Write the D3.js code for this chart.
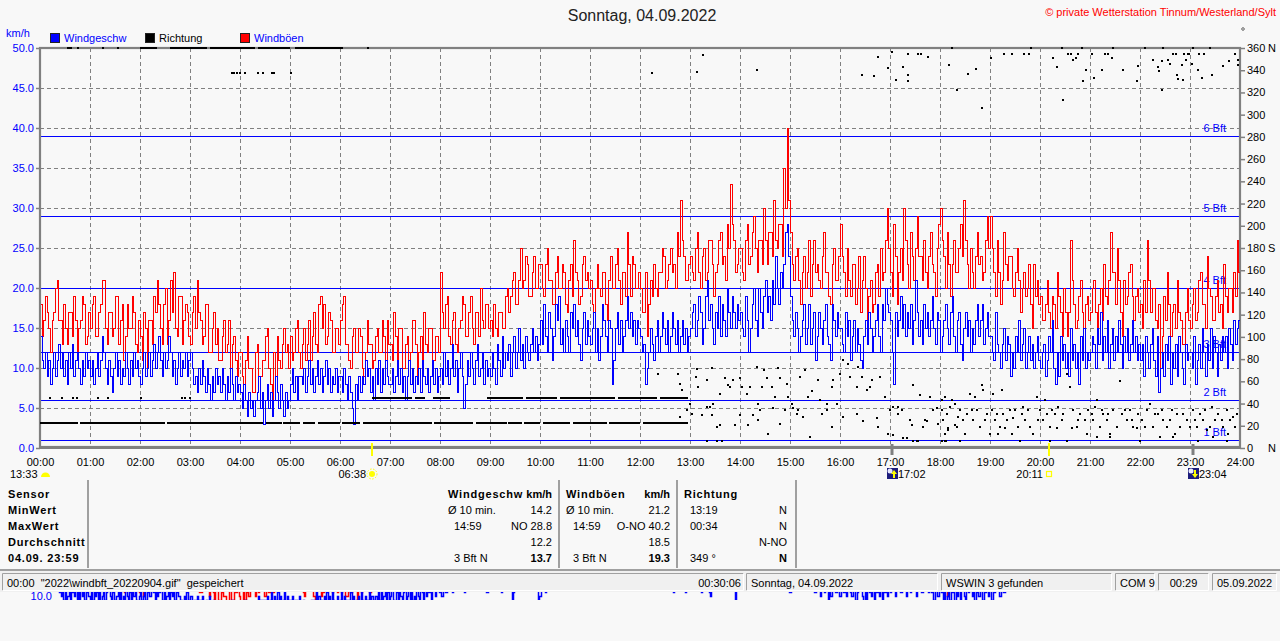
<!DOCTYPE html>
<html>
<head>
<meta charset="utf-8">
<script src="https://cdn.jsdelivr.net/npm/d3@7"></script>
<style>
  body { margin: 0; background: #f8f8f8; }
  svg { display: block; font-family: "Liberation Sans", Arial, sans-serif; }
</style>
</head>
<body>
<div id="chart"></div>
<script>
// ---- data ----
const title = "Sonntag, 04.09.2022";
const copyright = "\u00a9 private Wetterstation Tinnum/Westerland/Sylt";
const stepMin = 2; // one value every 2 minutes

// Windböen km/h, 30 values per hour
const windGust = [
  18,14,16,19,17,15,12,16,17,20,21,16,16,13,18,15,13,17,17,14,19,16,12,15,16,19,18,13,14,17,
  15,18,19,14,14,17,18,21,21,15,13,17,17,14,15,19,19,13,16,18,11,14,18,15,15,19,17,13,12,16,
  14,11,17,15,10,16,16,13,19,17,21,18,15,13,18,20,13,16,21,17,22,15,14,19,19,13,16,18,17,14,
  13,17,19,15,21,17,16,13,14,18,18,12,12,15,17,13,15,11,11,14,16,12,13,16,10,13,14,11,9,12,
  12,9,8,11,14,10,10,7,7,12,13,9,9,11,11,14,15,10,8,6,12,9,14,11,10,13,15,12,13,10,
  14,11,12,15,16,12,10,13,15,11,13,16,11,14,17,13,12,18,19,15,18,13,14,17,16,12,12,15,15,13,
  16,18,19,13,13,11,10,14,15,12,12,15,14,10,9,12,16,13,13,10,11,14,15,12,12,16,14,11,16,13,
  13,11,17,14,11,15,15,10,10,13,14,11,12,16,16,13,9,12,14,11,17,13,12,15,15,11,11,14,14,12,
  22,17,15,18,19,14,13,16,17,13,12,15,16,19,18,14,14,17,19,15,13,17,17,14,20,16,15,18,18,15,
  16,14,18,15,14,17,17,15,15,19,20,17,19,21,22,18,18,21,25,20,21,24,23,19,19,22,24,20,20,23,
  23,20,19,23,25,21,21,18,18,22,24,20,20,23,22,18,17,21,23,19,26,22,21,18,19,23,24,21,22,20,
  21,18,17,20,23,20,19,22,22,18,16,21,24,20,20,23,25,21,18,22,22,19,27,23,19,24,23,20,20,22,
  20,17,17,22,14,18,21,19,23,20,19,22,22,25,24,20,21,23,25,22,23,20,27,24,31,26,24,21,21,23,
  24,22,21,25,27,22,20,24,25,21,22,26,26,23,19,22,23,26,27,23,24,21,28,25,33,28,26,22,23,25,
  25,22,21,26,28,23,24,27,29,25,22,26,26,23,30,26,23,27,27,24,31,26,25,28,28,24,35,30,40,31,
  27,23,21,24,25,21,18,22,24,20,22,26,19,23,26,22,23,21,20,24,27,22,22,19,18,23,25,21,21,24,
  28,24,22,19,25,21,19,23,23,18,20,24,17,21,24,20,15,19,21,17,18,22,23,19,25,21,22,26,30,25,
  22,19,28,24,18,22,25,21,30,26,23,20,27,24,21,25,29,24,24,21,26,22,20,24,27,23,22,19,25,28,
  30,26,24,20,27,23,19,23,26,22,22,25,28,24,31,26,23,20,25,22,20,24,27,23,24,21,22,26,29,25,
  29,25,22,19,26,22,18,21,27,23,21,24,24,20,19,22,25,21,17,20,22,19,20,23,18,15,23,19,21,18,
  19,16,16,18,21,17,15,19,18,15,22,19,17,14,20,17,14,17,26,21,18,15,16,19,21,17,15,18,19,16,
  17,20,21,17,15,18,20,16,23,19,18,21,27,22,22,18,25,21,17,14,21,18,19,22,23,19,16,19,20,17,
  18,15,21,17,26,21,17,20,20,16,15,18,10,14,19,16,22,18,14,17,18,15,21,17,16,13,13,17,20,16,
  15,18,20,16,17,21,22,18,18,15,24,20,19,16,16,19,21,17,18,15,23,19,17,20,20,17,22,19,26,22
];

// Windgeschw km/h, 30 values per hour
const windSpeed = [
  14,11,10,12,9,11,8,10,12,9,11,13,10,12,9,11,8,12,10,13,9,11,12,10,8,11,9,12,10,11,
  9,11,8,10,12,9,11,14,12,10,8,11,9,7,10,12,9,11,8,10,9,12,10,8,11,9,12,10,11,9,
  8,10,12,9,10,12,9,11,13,10,12,14,11,9,12,10,11,14,12,9,11,8,10,12,9,11,10,12,9,11,
  12,10,8,9,7,10,8,11,9,7,10,8,6,9,7,10,8,9,7,10,8,6,9,7,10,8,6,9,7,8,
  7,5,8,6,4,7,5,6,4,6,7,9,5,7,3,6,8,5,7,4,6,9,7,5,8,6,4,7,5,6,
  8,10,7,9,6,9,9,8,10,7,9,11,8,10,7,9,11,8,10,7,9,11,8,10,7,9,8,10,7,9,
  9,7,10,8,6,9,7,5,3,8,6,9,7,9,8,11,9,10,7,9,6,10,8,11,7,10,8,11,9,8,
  8,10,7,9,11,8,10,7,9,6,9,11,8,10,7,9,8,10,7,11,9,8,10,7,9,11,8,10,7,9,
  10,8,12,9,11,8,10,13,9,11,7,10,12,9,5,8,11,9,12,10,8,11,13,9,10,12,8,11,9,10,
  9,12,10,8,13,11,9,14,10,12,11,13,9,12,14,10,12,15,11,13,10,14,12,11,13,15,12,14,11,13,
  16,13,18,14,12,17,15,11,14,18,16,19,13,15,12,16,14,12,17,15,18,14,16,13,11,15,17,13,16,14,
  13,15,17,12,15,11,14,18,16,14,12,16,15,8,11,15,17,13,16,12,14,16,19,15,17,14,16,13,16,15,
  14,12,13,8,10,12,15,13,11,14,16,12,14,17,15,13,16,12,14,17,15,13,16,12,14,16,13,15,12,14,
  15,17,18,14,16,19,17,13,15,19,21,16,18,15,13,17,15,19,14,18,16,14,20,17,15,19,17,15,18,16,
  17,15,14,19,16,12,15,18,20,16,14,20,17,15,19,21,17,19,16,21,18,24,20,18,22,20,23,27,28,24,
  19,16,14,17,15,12,14,16,18,13,15,18,13,15,17,11,14,17,15,13,16,18,14,13,11,18,16,14,17,15,
  15,13,12,17,14,16,11,14,16,12,15,13,11,10,14,16,13,17,15,12,14,16,18,14,12,18,16,20,18,17,
  16,12,8,17,14,16,19,15,18,14,17,15,18,13,16,21,17,14,16,13,18,15,17,14,16,19,15,13,17,16,
  12,14,16,18,15,13,17,19,14,12,16,17,13,11,15,17,14,16,12,15,13,16,18,14,16,18,13,15,17,14,
  14,12,11,17,13,12,10,13,15,11,14,13,9,12,10,14,12,16,11,13,15,10,12,14,11,13,10,12,14,11,
  10,12,13,9,11,14,12,16,10,8,12,9,14,11,13,10,12,9,15,11,13,10,12,8,14,11,15,10,12,11,
  12,14,13,10,15,13,17,11,14,12,16,10,13,15,11,14,12,16,13,10,14,12,15,11,13,16,12,14,11,13,
  11,13,9,14,12,10,13,15,11,9,14,7,10,12,9,13,11,14,8,12,10,13,9,14,12,10,8,13,11,12,
  12,10,14,8,11,13,10,15,12,9,13,11,15,10,14,12,9,13,11,14,12,14,10,15,13,11,16,13,15,16
];

// Richtung: runs of constant direction [startMin, endMin, degrees]
const dirRuns = [
  [0,46,22.5],[48,150,22.5],[152,268,22.5],[271,290,22.5],[292,312,22.5],[315,330,22.5],
  [333,360,22.5],[362,384,22.5],[387,470,22.5],[473,520,22.5],[523,560,22.5],[562,578,22.5],
  [581,600,22.5],[604,636,22.5],[640,680,22.5],[683,720,22.5],[723,777,22.5],
  [398,446,45],[450,462,45],[472,492,45],[536,580,45],[583,620,45],[624,690,45],[693,740,45],[744,777,45],
  [32,38,360],[44,46,360],[74,76,360],[92,94,360],[120,140,360],[156,200,360],[204,258,360],
  [262,300,360],[306,364,360],[392,394,360]
];

// Richtung: single readings [minute, degrees]
const dirPoints = [
  [12,45],[26,45],[40,45],[44,45],[70,45],[81,45],[121,45],[170,45],[174,45],[180,45],
  [230,337.5],[233,337.5],[236,337.5],[240,337.5],[246,337.5],[262,337.5],[268,337.5],[278,337.5],[281,337.5],[301,337.5],
  [734,337.5],[788,338],[796,354],[860,340],[986,336],[1001,335],[1006,352],[1018,342],[1022,356],[1027,331],
  [742,67],[766,67],[768,58],[770,52],[780,40],[788,71],[787,64],[790,55],[800,61],[806,72],[804,37],[808,40],
  [816,49],[822,63],[825,57],[828,55],[832,61],[840,63],[842,55],[848,49],[852,55],[860,73],[862,40],[864,34],
  [866,55],[869,70],[872,63],[878,55],[882,46],[886,72],[888,63],[896,58],[898,46],[904,36],[908,31],[912,64],
  [918,70],[922,46],[926,51],[934,61],[936,43],[944,40],[950,55],[952,61],[960,67],[964,79],[970,76],[972,64],
  [980,55],[982,73],[986,64],[992,52],[996,55],[998,61],[1008,64],[1014,46],[1020,34],[1024,37],[1030,37],
  [1034,34],[1044,25],[1048,57],[1056,48],[1062,25],[1068,46],[1072,34],[1076,36],[1082,43],[1086,46],
  [1094,43],[1098,40],
  [768,28],[776,34],[782,31],[794,30],[800,37],[806,30],[812,19],[816,21],[834,21],[840,30],[850,21],[856,30],
  [862,25],[874,13],[880,36],[888,22],[894,34],[902,40],[910,34],[916,28],[924,10],[938,31],[944,34],[950,19],
  [956,40],[964,28],[980,31],[988,24],[1004,27],[1006,19],[1018,13],[1024,12],[1030,31],[1036,9],[1040,9],
  [1046,21],[1052,6],[1060,19],[1064,24],[1078,22],[1082,6],[1086,13],[1090,16],[1098,21],
  [800,6],[812,6],[818,6],[1048,6],[1054,6],[1087,6],
  [1082,34],[1084,25],[1088,31],[1092,37],[1094,43],[1100,19],[1104,34],[1108,25],[1112,31],[1116,49],
  [1118,34],[1120,25],[1124,34],[1128,19],[1130,57],[1132,52],[1136,31],[1140,13],[1142,34],[1144,49],
  [1146,25],[1148,31],[1152,19],[1154,52],[1156,31],[1160,25],[1164,34],[1166,13],[1170,34],[1174,19],
  [1178,31],[1182,25],[1186,34],[1192,13],[1196,46],[1200,34],[1204,25],[1206,43],[1208,31],[1212,19],
  [1218,31],[1222,37],[1226,25],[1232,67],[1236,55],[1240,34],[1244,19],[1248,31],[1254,25],[1258,34],
  [1262,31],[1266,37],[1268,43],[1272,19],[1276,31],[1280,25],[1284,13],[1288,34],[1296,60],[1298,31],
  [1304,25],[1308,34],[1312,19],[1318,31],[1322,25],[1328,34],[1332,40],[1336,19],[1342,31],[1348,25],
  [1352,19],[1358,34],[1364,31],[1368,19],[1376,25],[1384,34],[1388,19],[1392,31],[1396,25],[1400,16],
  [1406,37],[1410,25],[1414,31],[1420,19],[1424,34],[1428,25],[1432,28],[1436,31],
  [1086,6],[1104,6],[1176,6],[1212,6],[1232,6],[1268,10],[1284,10],[1320,6],[1344,10],[1360,10],
  [1390,6],[1408,10],[1424,6],
  [1090,18],[1102,28],[1110,13],[1122,46],[1134,25],[1150,13],[1158,18],[1168,27],[1180,37],[1188,19],
  [1198,25],[1214,34],[1220,18],[1228,31],[1238,18],[1246,25],[1256,13],[1264,25],[1274,34],[1282,31],
  [1292,19],[1302,34],[1310,25],[1316,18],[1326,19],[1338,31],[1346,34],[1356,25],[1362,13],[1372,31],
  [1380,19],[1386,25],[1398,34],[1404,19],[1418,25],[1426,13],[1434,19],
  [1036,343],[1041,336],[1041,330],[1042,355],[1054,355],[1057,355],[1066,352],[1091,345],[1094,360],
  [1100,322],[1114,337],[1123,341],[1130,306],[1141,351],[1157,355],[1166,355],[1181,355],[1187,355],
  [1189,360],[1215,351],[1220,343],[1227,313],[1226,360],[1234,355],[1237,355],[1240,349],[1243,351],
  [1246,355],[1251,330],[1255,340],[1250,360],[1262,355],[1265,333],[1274,340],[1278,355],[1282,355],
  [1286,351],[1288,360],[1299,340],[1316,330],[1317,344],[1326,360],[1335,349],[1341,343],[1343,339],
  [1346,322],[1346,348],[1348,360],[1354,349],[1356,346],[1359,355],[1363,355],[1364,336],[1366,332],
  [1370,345],[1371,331],[1373,355],[1375,349],[1377,355],[1379,355],[1382,346],[1384,360],[1389,340],
  [1391,355],[1394,333],[1397,355],[1404,360],[1406,336],[1420,344],[1427,348],[1434,355],[1437,345],[1438,349]
];

// Beaufort limits in km/h
const bftLevels = [1, 6, 12, 20, 29, 39];
const bftLabels = ["1 Bft", "2 Bft", "3 Bft", "4 Bft", "5 Bft", "6 Bft"];

// axis ticks
const speedTicks = [0, 5, 10, 15, 20, 25, 30, 35, 40, 45, 50];
const dirTicks = [0, 20, 40, 60, 80, 100, 120, 140, 160, 180, 200, 220, 240, 260, 280, 300, 320, 340, 360];
const dirNames = { 0: "N", 180: "S", 360: "N" };
const hourLabels = ["00:00","01:00","02:00","03:00","04:00","05:00","06:00","07:00","08:00","09:00","10:00","11:00",
  "12:00","13:00","14:00","15:00","16:00","17:00","18:00","19:00","20:00","21:00","22:00","23:00","24:00"];

// sun / moon times
const sunEvents = [{ time: "06:38", kind: "rise" }, { time: "20:11", kind: "set" }];
const moonEvents = [{ time: "17:02", kind: "rise" }, { time: "23:04", kind: "set" }];
const moonPhaseLabel = "13:33";

// table
const tableLabels = ["Sensor", "MinWert", "MaxWert", "Durchschnitt", "04.09. 23:59"];
const tableCols = [
  { head: "Windgeschw", unit: "km/h", rows: [["Ø 10 min.", "14.2"], ["14:59", "NO 28.8"], ["", "12.2"], ["3 Bft N", "13.7"]] },
  { head: "Windböen", unit: "km/h", rows: [["Ø 10 min.", "21.2"], ["14:59", "O-NO 40.2"], ["", "18.5"], ["3 Bft N", "19.3"]] },
  { head: "Richtung", unit: "", rows: [["13:19", "N"], ["00:34", "N"], ["", "N-NO"], ["349 °", "N"]] }
];

// status bar
const statusPanels = [
  { left: '00:00  "2022\\windbft_20220904.gif"  gespeichert', right: "00:30:06" },
  { left: "Sonntag, 04.09.2022" },
  { left: "WSWIN 3 gefunden" },
  { left: "COM 9" },
  { center: "00:29" },
  { left: "05.09.2022" }
];

// ---- drawing ----
const W = 1280, H = 641;
const FONT = "Liberation Sans, Arial, sans-serif";
const svg = d3.select("#chart").append("svg").attr("width", W).attr("height", H);
svg.append("rect").attr("width", W).attr("height", H).attr("fill", "#f8f8f8");

const x = d3.scaleLinear().domain([0, 1440]).range([40, 1240]);
const y = d3.scaleLinear().domain([0, 50]).range([448, 48]);
const yDir = d3.scaleLinear().domain([0, 360]).range([448, 48]);
const toMin = s => +s.slice(0, 2) * 60 + +s.slice(3, 5);

svg.append("defs").append("clipPath").attr("id", "plot")
  .append("rect").attr("x", 40).attr("y", 47).attr("width", 1200).attr("height", 402);

// title + copyright
svg.append("text").attr("x", 642).attr("y", 21).attr("text-anchor", "middle")
  .attr("font-size", 16).attr("fill", "#222").text(title);
svg.append("text").attr("x", 1276).attr("y", 16).attr("text-anchor", "end")
  .attr("font-size", 11).attr("fill", "#ff0000").text(copyright);
svg.append("circle").attr("cx", 1243).attr("cy", 29).attr("r", 1.3)
  .attr("fill", "none").attr("stroke", "#444").attr("stroke-width", 0.8);

// legend
svg.append("text").attr("x", 6).attr("y", 37).attr("font-size", 11).attr("fill", "#0000ff").text("km/h");
const legendItems = [
  { x: 50, color: "#0000ff", text: "Windgeschw", tc: "#0000ff" },
  { x: 145, color: "#000000", text: "Richtung", tc: "#000000" },
  { x: 240, color: "#ff0000", text: "Windböen", tc: "#0000ff" }
];
legendItems.forEach(d => {
  svg.append("rect").attr("x", d.x + 0.5).attr("y", 33.5).attr("width", 9).attr("height", 9)
    .attr("fill", d.color).attr("stroke", "#222");
  svg.append("text").attr("x", d.x + 14).attr("y", 42).attr("font-size", 11).attr("fill", d.tc).text(d.text);
});

// grid
const grid = svg.append("g").attr("stroke", "#808080").attr("stroke-dasharray", "4,3")
  .attr("shape-rendering", "crispEdges");
grid.selectAll(".gv").data(hourLabels.slice(1, -1).map(toMin)).join("line")
  .attr("x1", d => Math.round(x(d)) + 0.5).attr("x2", d => Math.round(x(d)) + 0.5)
  .attr("y1", 48).attr("y2", 448);
grid.selectAll(".gh").data(speedTicks.slice(1, -1)).join("line")
  .attr("x1", 40).attr("x2", 1240)
  .attr("y1", d => Math.round(y(d)) + 0.5).attr("y2", d => Math.round(y(d)) + 0.5);

// Beaufort lines + labels
const bft = svg.append("g").attr("shape-rendering", "crispEdges");
bft.selectAll("line").data(bftLevels).join("line")
  .attr("x1", 40).attr("x2", 1240)
  .attr("y1", d => Math.round(y(d)) + 0.5).attr("y2", d => Math.round(y(d)) + 0.5)
  .attr("stroke", "#0000ff");
bft.selectAll("text").data(bftLevels).join("text")
  .attr("x", 1226).attr("y", d => y(d) - 4).attr("text-anchor", "end")
  .attr("font-size", 11).attr("fill", "#0000ff").text((d, i) => bftLabels[i]);

// axes
const gray = "#808080";
const leftAxis = svg.append("g").attr("transform", "translate(40,0)")
  .call(d3.axisLeft(y).tickValues(speedTicks).tickFormat(d3.format(".1f")).tickSize(4).tickPadding(2));
leftAxis.select(".domain").remove();
leftAxis.selectAll("line").attr("stroke", gray).attr("stroke-width", 1.5);
leftAxis.selectAll("text").attr("fill", "#0000ff").attr("font-size", 11).attr("font-family", FONT);

const rightAxis = svg.append("g").attr("transform", "translate(1240,0)")
  .call(d3.axisRight(yDir).tickValues(dirTicks).tickSize(5).tickPadding(2));
rightAxis.select(".domain").remove();
rightAxis.selectAll("line").attr("stroke", gray).attr("stroke-width", 1.5);
rightAxis.selectAll("text").attr("fill", "#000").attr("font-size", 11).attr("font-family", FONT);
rightAxis.selectAll(".tick").filter(d => dirNames[d]).append("text")
  .attr("x", 28).attr("dy", "0.32em").attr("fill", "#000").attr("font-size", 11)
  .attr("font-family", FONT).attr("text-anchor", "start")
  .text(d => dirNames[d]);

const bottomAxis = svg.append("g").attr("transform", "translate(0,448)")
  .call(d3.axisBottom(x).tickValues(hourLabels.map(toMin)).tickFormat((d, i) => hourLabels[i]).tickSize(0).tickPadding(10));
bottomAxis.select(".domain").remove();
bottomAxis.selectAll("text").attr("fill", "#000").attr("font-size", 11).attr("font-family", FONT);

// plot frame
svg.append("rect").attr("x", 40).attr("y", 48).attr("width", 1200).attr("height", 399)
  .attr("fill", "none").attr("stroke", gray).attr("stroke-width", 2.2);
svg.append("line").attr("x1", 39).attr("x2", 1241).attr("y1", 447.5).attr("y2", 447.5)
  .attr("stroke", gray).attr("stroke-width", 3);

// series
const series = (vals) => {
  const pts = vals.map((v, i) => [i * stepMin, v]);
  pts.push([1440, vals[vals.length - 1]]);
  return pts;
};
const stepLine = d3.line().x(d => Math.round(x(d[0])) + 0.5).y(d => Math.round(y(d[1])) + 0.5).curve(d3.curveStepAfter);
const plot = svg.append("g").attr("clip-path", "url(#plot)");
plot.append("path").datum(series(windGust)).attr("d", stepLine)
  .attr("fill", "none").attr("stroke", "#ff0000").attr("stroke-width", 1).attr("shape-rendering", "crispEdges");
plot.append("path").datum(series(windSpeed)).attr("d", stepLine)
  .attr("fill", "none").attr("stroke", "#0000ff").attr("stroke-width", 1).attr("shape-rendering", "crispEdges");

// direction
const dirG = svg.append("g").attr("fill", "#000").attr("shape-rendering", "crispEdges");
dirG.selectAll(".run").data(dirRuns).join("rect")
  .attr("x", d => x(d[0])).attr("width", d => Math.max(2, x(d[1]) - x(d[0])))
  .attr("y", d => Math.round(yDir(d[2])) - 1).attr("height", 2);
dirG.selectAll(".pt").data(dirPoints).join("rect")
  .attr("x", d => Math.round(x(d[0])) - 1).attr("y", d => Math.round(yDir(d[1])) - 1)
  .attr("width", 2).attr("height", 2);

// sun / moon markers
sunEvents.forEach(e => {
  const px = Math.round(x(toMin(e.time)));
  svg.append("rect").attr("x", px - 1).attr("y", 443).attr("width", 2).attr("height", 13).attr("fill", "#ffff00");
  if (e.kind === "rise") {
    svg.append("circle").attr("cx", px).attr("cy", 474).attr("r", 3).attr("fill", "#ffff00");
    svg.append("circle").attr("cx", px).attr("cy", 474).attr("r", 5).attr("fill", "none")
      .attr("stroke", "#ffff00").attr("stroke-width", 1).attr("stroke-dasharray", "1.5,1.5");
  } else {
    svg.append("rect").attr("x", px - 2.5).attr("y", 471.5).attr("width", 5).attr("height", 5)
      .attr("fill", "none").attr("stroke", "#ffff00").attr("stroke-width", 1.2);
  }
  svg.append("text").attr("x", px - 6).attr("y", 478).attr("text-anchor", "end")
    .attr("font-size", 11).attr("fill", "#000").text(e.time);
});
moonEvents.forEach(e => {
  const px = Math.round(x(toMin(e.time)));
  svg.append("rect").attr("x", px - 1.5).attr("y", 444).attr("width", 3).attr("height", 11).attr("fill", gray);
  const g = svg.append("g").attr("transform", `translate(${px - 5},468)`);
  g.append("rect").attr("width", 11).attr("height", 11).attr("fill", "#1c1c7c");
  g.append("circle").attr("cx", 3).attr("cy", 3).attr("r", 2.5).attr("fill", "#e8e8ff");
  const up = e.kind === "rise";
  g.append("path").attr("d", up ? "M7,2 L10,6 L8,6 L8,10 L6,10 L6,6 L4,6Z" : "M7,10 L10,6 L8,6 L8,2 L6,2 L6,6 L4,6Z")
    .attr("fill", "#ffff00");
  svg.append("text").attr("x", px + 6).attr("y", 478).attr("font-size", 11).attr("fill", "#000").text(e.time);
});
svg.append("text").attr("x", 10).attr("y", 478).attr("font-size", 11).attr("fill", "#000").text(moonPhaseLabel);
svg.append("path").attr("d", "M41,477 A4.5,4.5 0 0 1 50,477 Z").attr("fill", "#ffff00");

// table
const tbl = svg.append("g").attr("font-size", 11).attr("fill", "#000");
const rowY = [498, 514, 530, 546, 562];
tbl.selectAll(".lab").data(tableLabels).join("text")
  .attr("x", 8).attr("y", (d, i) => rowY[i]).attr("font-weight", "bold").attr("letter-spacing", 0.8).text(d => d);
const colX = [{ l: 448, l2: 454, r: 552 }, { l: 566, l2: 573, r: 670 }, { l: 684, l2: 690, r: 787 }];
tableCols.forEach((c, ci) => {
  const cx = colX[ci];
  tbl.append("text").attr("x", cx.l).attr("y", rowY[0]).attr("font-weight", "bold").attr("letter-spacing", 0.8).text(c.head);
  tbl.append("text").attr("x", cx.r).attr("y", rowY[0]).attr("font-weight", "bold").attr("text-anchor", "end").text(c.unit);
  c.rows.forEach((r, ri) => {
    const lx = (ci < 2 && ri === 0) ? cx.l : cx.l2;
    tbl.append("text").attr("x", lx).attr("y", rowY[ri + 1]).text(r[0]);
    tbl.append("text").attr("x", cx.r).attr("y", rowY[ri + 1]).attr("text-anchor", "end")
      .attr("font-weight", ri === 3 ? "bold" : "normal").text(r[1]);
  });
});
[88, 559, 677, 796].forEach(sx => {
  svg.append("line").attr("x1", sx).attr("x2", sx).attr("y1", 480).attr("y2", 568)
    .attr("stroke", "#a0a0a0").attr("stroke-width", 2);
});

// status bar
svg.append("rect").attr("x", 0).attr("y", 570).attr("width", W).attr("height", 22).attr("fill", "#f0f0f0");
svg.append("line").attr("x1", 0).attr("x2", W).attr("y1", 570).attr("y2", 570).attr("stroke", "#a0a0a0").attr("stroke-width", 2);
const panelX = [[2, 744], [746, 938], [941, 1112], [1115, 1155], [1158, 1209], [1212, 1277]];
statusPanels.forEach((p, i) => {
  const [a, b] = panelX[i];
  svg.append("path").attr("d", `M${a + 0.5},590.5 V573.5 H${b - 0.5}`).attr("fill", "none").attr("stroke", "#a0a0a0");
  svg.append("path").attr("d", `M${b - 0.5},573.5 V590.5 H${a + 0.5}`).attr("fill", "none").attr("stroke", "#ffffff");
  const t = svg.append("text").attr("y", 587).attr("font-size", 11).attr("fill", "#000").style("white-space", "pre");
  if (p.center) t.attr("x", (a + b) / 2).attr("text-anchor", "middle").text(p.center);
  else t.attr("x", a + 5).text(p.left);
  if (p.right) svg.append("text").attr("x", b - 3).attr("y", 587).attr("text-anchor", "end")
    .attr("font-size", 11).attr("fill", "#000").text(p.right);
});

// leftover strip of an earlier drawing under the status bar
svg.append("defs").append("clipPath").attr("id", "strip")
  .append("rect").attr("x", 0).attr("y", 592).attr("width", W).attr("height", 8);
const stripG = svg.append("g").attr("clip-path", "url(#strip)");
const xs = d3.scaleLinear().domain([0, 1440]).range([58, 1010]);
const ys = d3.scaleLinear().domain([10, 12.5]).range([596, 586]);
const stripLine = d3.line().x(d => Math.round(xs(d[0])) + 0.5).y(d => Math.round(ys(d[1])) + 0.5).curve(d3.curveStepAfter);
stripG.append("path").datum(series(windGust)).attr("d", stripLine).attr("fill", "none").attr("stroke", "#ff0000").attr("stroke-width", 1.5);
stripG.append("path").datum(series(windSpeed)).attr("d", stripLine).attr("fill", "none").attr("stroke", "#0000ff").attr("stroke-width", 1.5);
stripG.append("text").attr("x", 52).attr("y", 600).attr("text-anchor", "end").attr("font-size", 11)
  .attr("fill", "#0000ff").text("10.0");
</script>
</body>
</html>
